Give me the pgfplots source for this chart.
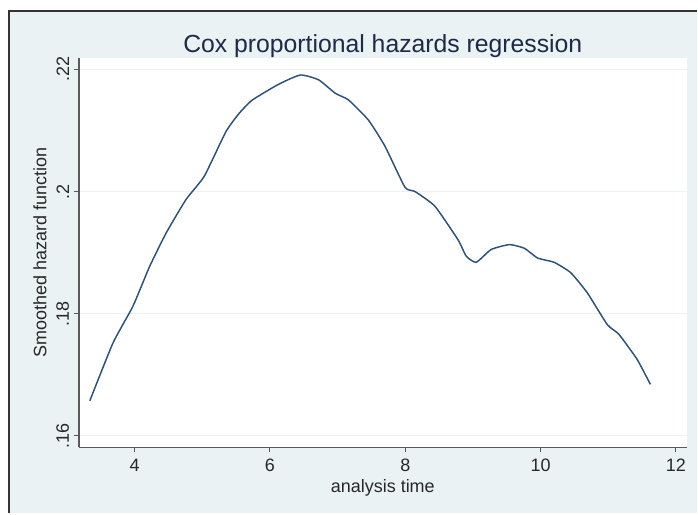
\documentclass[border=0pt]{standalone}
\usepackage{fontspec}
\setmainfont{Liberation Sans}
\usepackage{pgfplots}
\pgfplotsset{compat=1.18}
\definecolor{statabg}{RGB}{234,242,243}
\definecolor{statanavy}{RGB}{42,82,122}
\definecolor{titlec}{RGB}{30,42,72}
\definecolor{labelc}{RGB}{40,40,40}
\definecolor{axisc}{RGB}{90,90,90}

\begin{document}
\begin{tikzpicture}
% page background and frame (1px = 0.75pt)
\fill[white] (-59.25pt,-49.5pt) rectangle (464.25pt,336pt);
\fill[statabg] (-52.5pt,-49.5pt) rectangle (464.25pt,327.75pt);
\draw[line width=1.9pt, black!80] (-52.5pt,-49.5pt) -- (-52.5pt,327.75pt) -- (464.25pt,327.75pt);
\begin{axis}[
    scale only axis,
    width=456.75pt, height=292.5pt,
    xmin=3.176, xmax=12.16,
    ymin=0.1581, ymax=0.2219,
    axis lines*=left,
    axis line style={axisc, line width=1pt},
    axis background/.style={fill=white},
    tick align=outside,
    major tick length=3.75pt,
    tick style={axisc, line width=0.8pt},
    xtick={4,6,8,10,12},
    ytick={0.16,0.18,0.2,0.22},
    yticklabels={.16,.18,.2,.22},
    ymajorgrids,
    grid style={statabg, line width=1pt},
    /pgf/number format/assume math mode=true,
    ticklabel style={font=\fontsize{13.5pt}{15pt}\selectfont, text=labelc},
    xticklabel style={yshift=-1.5pt},
    yticklabel style={rotate=90, anchor=south},
    title={Cox proportional hazards regression},
    title style={font=\fontsize{18.6pt}{21pt}\selectfont, text=titlec,
        at={(axis description cs:0.5,1)}, anchor=center, yshift=3pt},
    xlabel={analysis time},
    xlabel style={font=\fontsize{13.5pt}{15pt}\selectfont, text=labelc,
        at={(axis description cs:0.5,0)}, anchor=center, yshift=-30.5pt},
    ylabel={Smoothed hazard function},
    ylabel style={font=\fontsize{13.5pt}{15pt}\selectfont, text=labelc,
        at={(axis description cs:-0.064,0.5)}, anchor=center},
]
\addplot[statanavy, line width=1.1pt, smooth, tension=0.3] coordinates {
(3.338,0.1657) (3.681,0.1752) (3.975,0.1812) (4.221,0.1877) (4.466,0.1932)
(4.760,0.1987) (5.029,0.2025) (5.349,0.2098) (5.544,0.2128) (5.740,0.2150)
(6.132,0.2176) (6.451,0.2191) (6.720,0.2183) (6.966,0.2161) (7.162,0.2150)
(7.456,0.2117) (7.701,0.2074) (7.995,0.2007) (8.143,0.2000) (8.437,0.1976)
(8.779,0.1921) (8.901,0.1894) (9.049,0.1884) (9.269,0.1905) (9.540,0.1913)
(9.760,0.1907) (9.956,0.1891) (10.200,0.1884) (10.445,0.1867) (10.690,0.1834)
(10.985,0.1782) (11.157,0.1766) (11.426,0.1725) (11.622,0.1684)
};
\end{axis}
\end{tikzpicture}
\end{document}
